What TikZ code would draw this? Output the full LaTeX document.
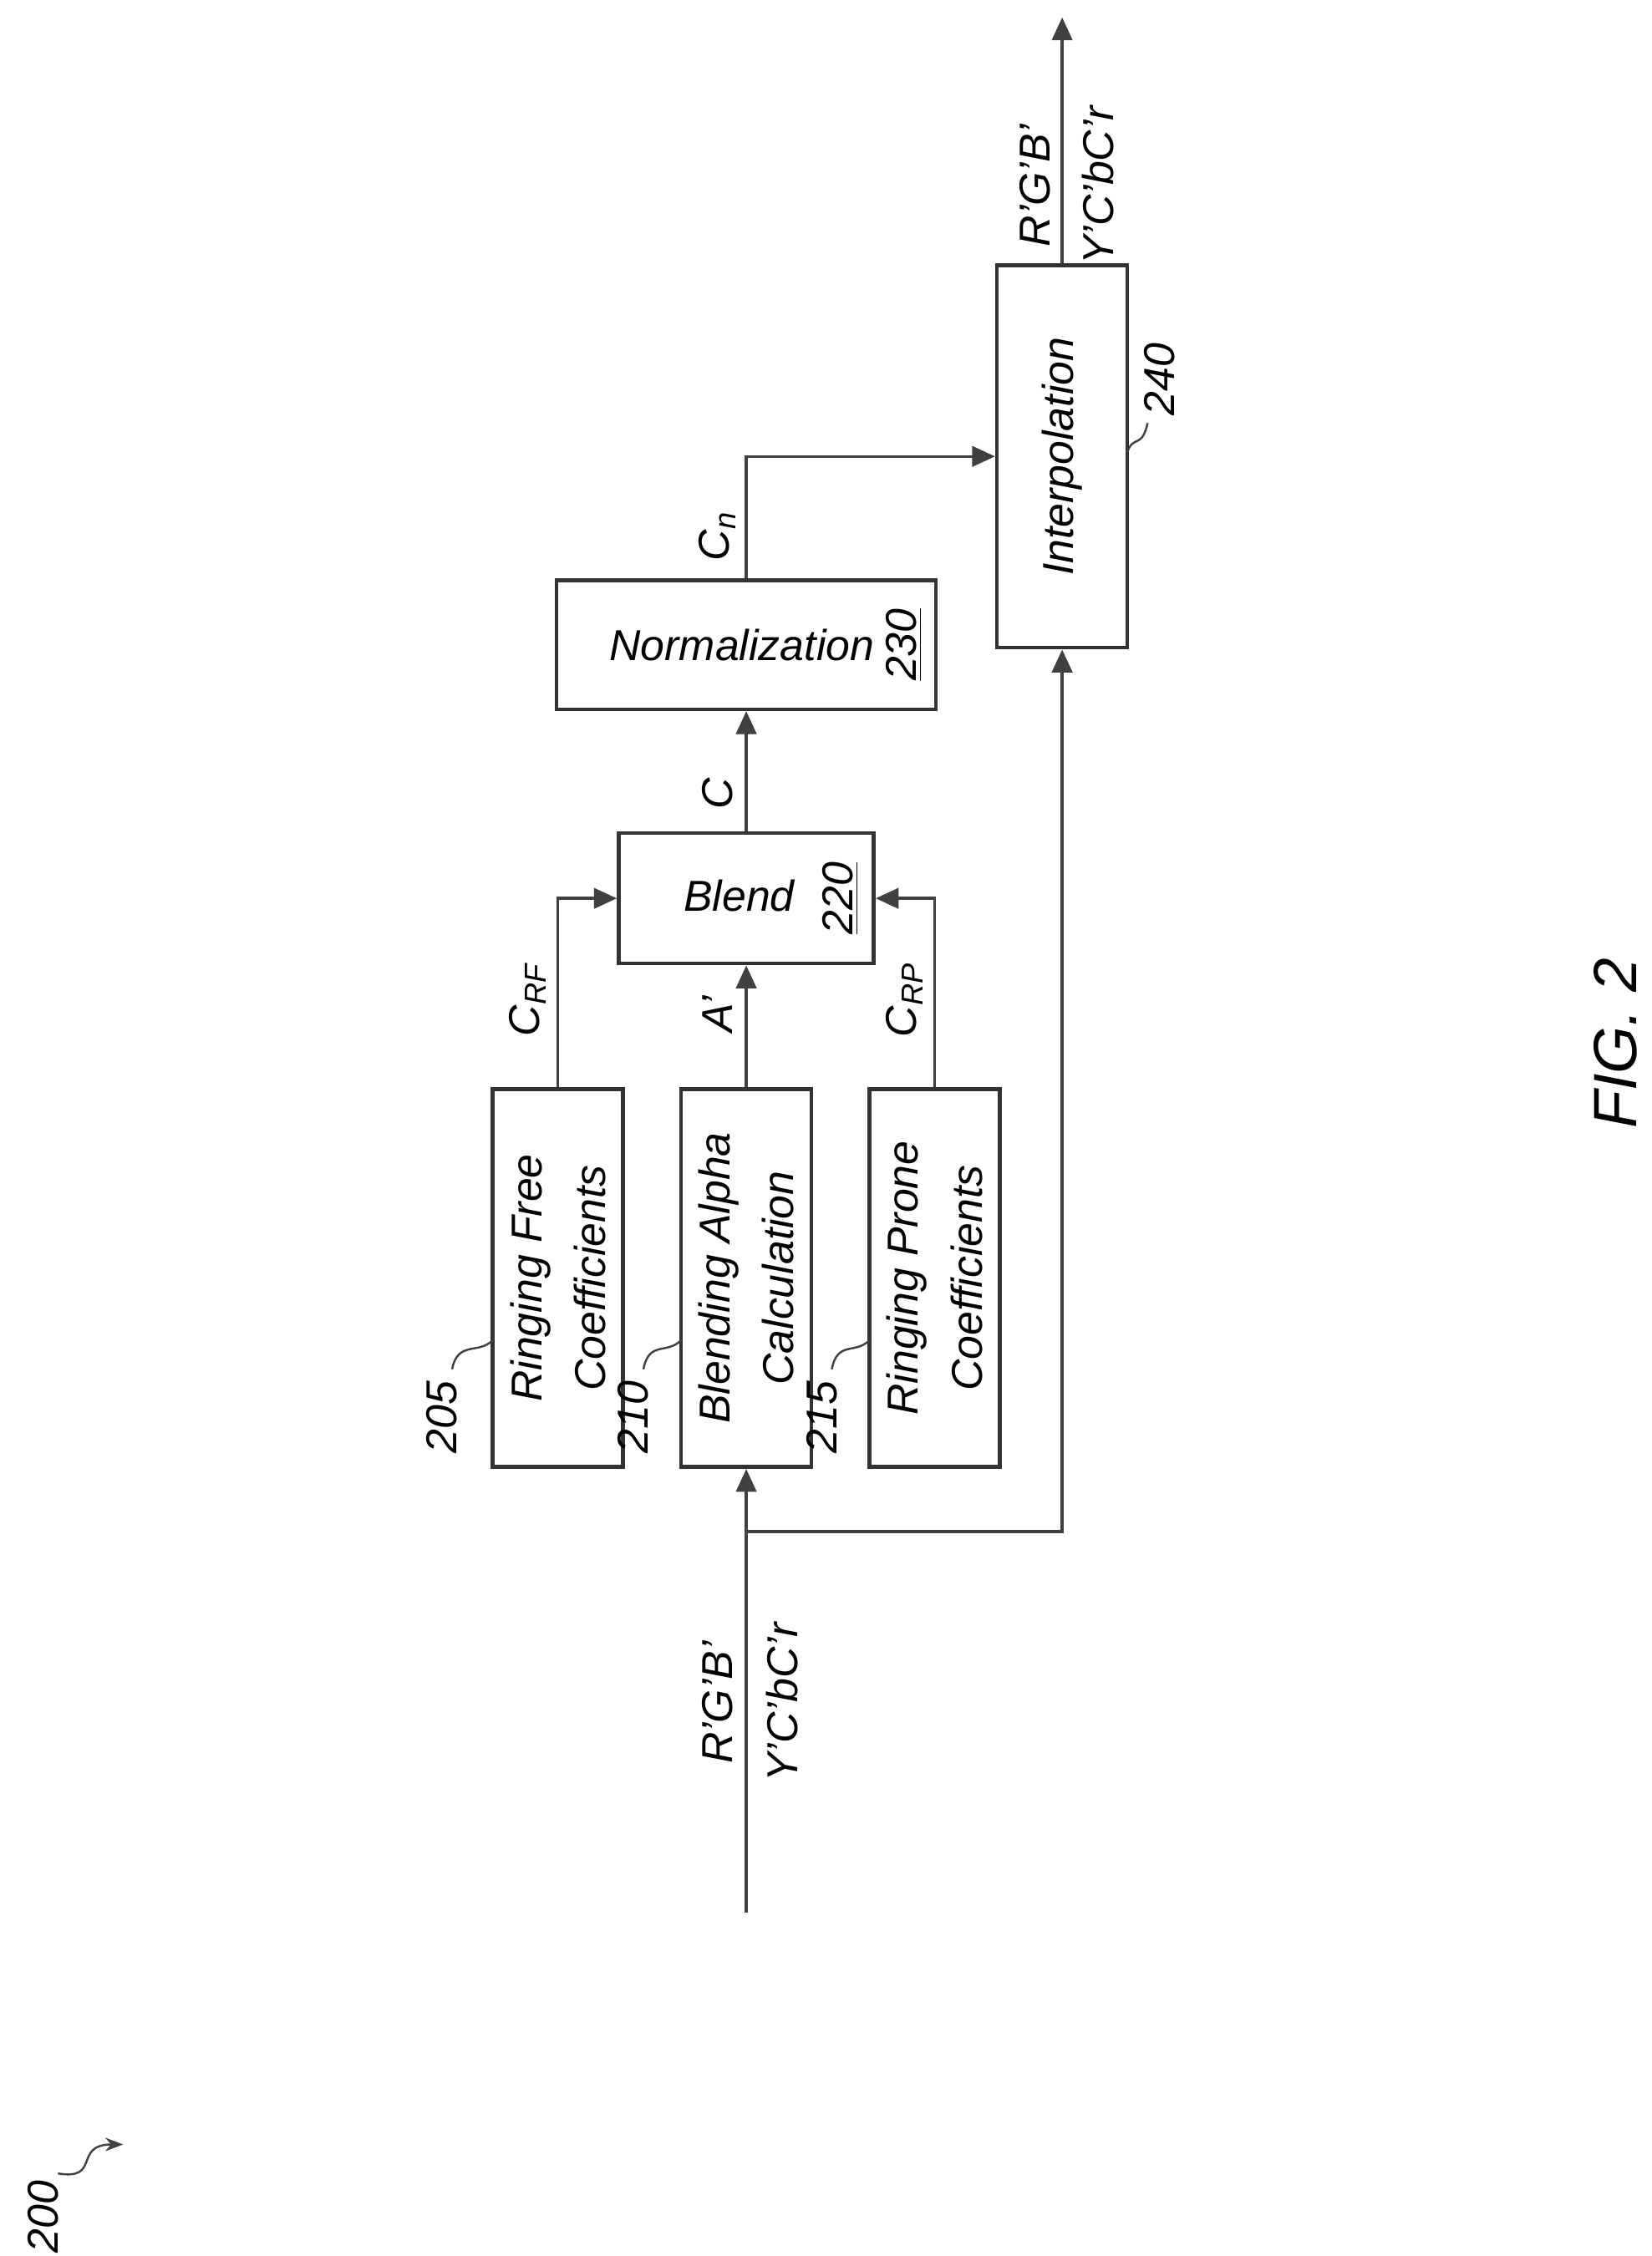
\documentclass[tikz,border=0pt]{standalone}
\usepackage{fontspec}
\setmainfont{Liberation Sans}
\usetikzlibrary{arrows.meta}
\begin{document}
\begin{tikzpicture}[
	x=0.02cm, y=-0.02cm,
	font=\fontsize{17}{21}\selectfont\itshape,
	blk/.style={draw=black!80, line width=1.5pt, rotate=90, align=center, inner sep=0pt},
	lbl/.style={rotate=90, inner sep=1pt},
	wire/.style={draw=black!75, line width=1.1pt},
	arr/.style={wire, -{Triangle[length=9pt,width=8pt]}},
	]
\useasboundingbox (0,0) rectangle (1140,1557);
% blocks
\node [blk, minimum width=5.22cm, minimum height=1.8cm] (rf) at (385,882) {Ringing Free\\[4pt]Coefficients};
\node [blk, minimum width=5.22cm, minimum height=1.8cm] (ba) at (515,882) {Blending Alpha\\[4pt]Calculation};
\node [blk, minimum width=5.22cm, minimum height=1.8cm] (rp) at (645,882) {Ringing Prone\\[4pt]Coefficients};
\node [blk, minimum width=1.8cm, minimum height=3.52cm] (blend) at (515,620) {};
\node [inner sep=1pt] at (510,618) {Blend};
\node [lbl] at (580,620) {\underline{220}};
\node [blk, minimum width=1.78cm, minimum height=5.24cm] (norm) at (515,445) {};
\node [inner sep=1pt] at (512,445) {Normalization};
\node [lbl] at (624,445) {\underline{230}};
\node [blk, minimum width=5.28cm, minimum height=1.8cm] (interp) at (733,315) {Interpolation};
% reference numbers
\node [lbl] (n205) at (305,978) {205};
\node [lbl] (n210) at (437,978) {210};
\node [lbl] (n215) at (567,978) {215};
\node [lbl] (n240) at (800,262) {240};
\draw [wire, line width=0.8pt] (312,945) .. controls (316,925) and (330,935) .. (340,925);
\draw [wire, line width=0.8pt] (444,945) .. controls (448,925) and (460,935) .. (470,925);
\draw [wire, line width=0.8pt] (574,945) .. controls (578,925) and (590,935) .. (600,925);
\draw [wire, line width=0.8pt] (792,292) .. controls (788,310) and (782,300) .. (778,312);
% signals
\coordinate (in) at (515,1320);
\coordinate (br) at (515,1057);
\coordinate (out) at (733,12);
\draw [arr] (in) -- (ba.west);
\draw [arr] (br) -| (interp.west);
\draw [arr] (rf.east) |- (blend.north);
\draw [arr] (ba.east) -- (blend.west);
\draw [arr] (rp.east) |- (blend.south);
\draw [arr] (blend.east) -- (norm.west);
\draw [arr] (norm.east) |- (interp.north);
\draw [arr] (interp.east) -- (out);
% signal labels
\node [lbl] at (495,1175) {R'G'B'};
\node [lbl] at (540,1175) {Y'C'bC'r};
\node [lbl] at (714,128) {R'G'B'};
\node [lbl] at (758,128) {Y'C'bC'r};
\node [lbl] at (364,690) {C\textsubscript{RF}};
\node [lbl] at (495,700) {A'};
\node [lbl] at (624,690) {C\textsubscript{RP}};
\node [lbl] at (495,548) {C};
\node [lbl] at (495,370) {C\textsubscript{n}};
% figure
\node [lbl, font=\fontsize{24}{28}\selectfont\itshape] (fig) at (1115,720) {FIG. 2};
\node [lbl] (n200) at (30,1530) {200};
\draw [wire, line width=0.8pt, -{Stealth[length=7pt]}] (40,1500) .. controls (70,1505) and (50,1480) .. (85,1480);
\end{tikzpicture}
\end{document}
